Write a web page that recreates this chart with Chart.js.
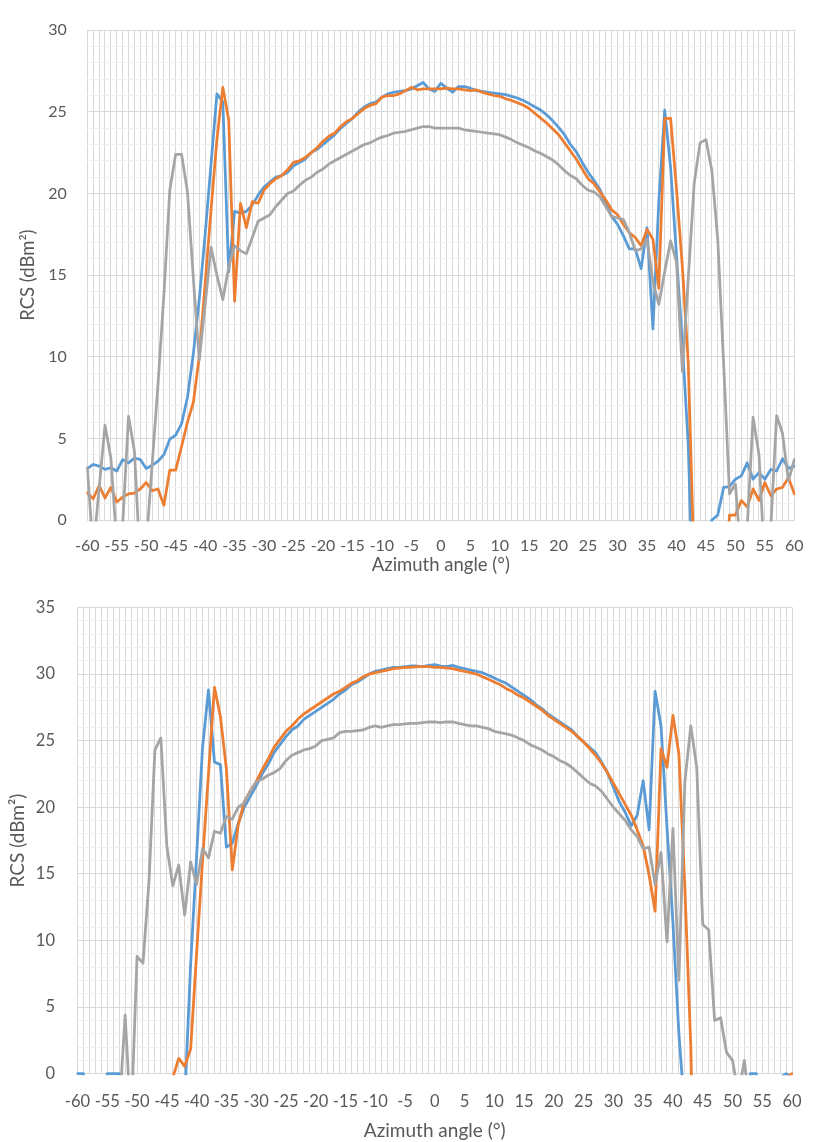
<!DOCTYPE html>
<html><head><meta charset="utf-8">
<script src="https://cdn.jsdelivr.net/npm/chart.js@4/dist/chart.umd.min.js"></script>
<style>
html,body{margin:0;padding:0;background:#fff;}
#wrap{position:relative;width:820px;height:1142px;overflow:hidden;}
canvas{position:absolute;left:0;}
</style></head><body>
<div id="wrap">
<canvas id="c1" width="820" height="575" style="top:0px"></canvas>
<canvas id="c2" width="820" height="567" style="top:575px"></canvas>
</div>
<script>
// Azimuth angle categories (degrees)
const angles = [
 -60,-59,-58,-57,-56,-55,-54,-53,-52,-51,-50,
 -49,-48,-47,-46,-45,-44,-43,-42,-41,-40,-39,
 -38,-37,-36,-35,-34,-33,-32,-31,-30,-29,-28,
 -27,-26,-25,-24,-23,-22,-21,-20,-19,-18,-17,
 -16,-15,-14,-13,-12,-11,-10,-9,-8,-7,-6,
 -5,-4,-3,-2,-1,0,1,2,3,4,5,
 6,7,8,9,10,11,12,13,14,15,16,
 17,18,19,20,21,22,23,24,25,26,27,
 28,29,30,31,32,33,34,35,36,37,38,
 39,40,41,42,43,44,45,46,47,48,49,
 50,51,52,53,54,55,56,57,58,59,60
];

// ---- Upper chart (RCS, dBm²) ----
const topBlue = [
 3.15,3.4,3.3,3.1,3.2,3.0,3.7,3.5,3.8,3.7,3.15,
 3.35,3.6,4.0,4.95,5.2,5.9,7.5,10.2,13.5,17.5,21.8,
 26.1,25.6,15.2,18.9,18.8,18.9,19.3,19.9,20.4,20.7,21.0,
 21.1,21.3,21.7,21.9,22.1,22.5,22.7,23.0,23.3,23.6,24.0,
 24.3,24.6,25.0,25.3,25.5,25.6,25.9,26.1,26.2,26.25,26.3,
 26.4,26.6,26.8,26.4,26.25,26.75,26.45,26.2,26.55,26.55,26.45,
 26.3,26.25,26.2,26.15,26.1,26.05,25.95,25.85,25.7,25.5,25.3,
 25.1,24.8,24.45,24.05,23.6,23.0,22.55,21.9,21.3,20.8,20.25,
 19.4,18.6,18.1,17.4,16.6,16.6,15.4,17.9,11.7,19.5,25.1,
 21.6,16.2,10.8,4.6,-8,-8,-8,0,0.3,2.0,2.05,
 2.5,2.7,3.5,2.5,2.9,2.5,3.1,3.0,3.75,3.15,3.3
];
const topOrange = [
 1.65,1.3,2.1,1.35,2.0,1.1,1.4,1.6,1.65,1.9,2.3,
 1.8,1.9,0.9,3.05,3.05,4.5,6.0,7.2,10.0,14.5,19.0,
 23.3,26.5,24.5,13.4,19.4,17.9,19.5,19.4,20.2,20.6,20.9,
 21.1,21.45,21.9,22.0,22.2,22.5,22.8,23.2,23.5,23.7,24.1,
 24.4,24.6,24.9,25.2,25.4,25.5,25.9,26.0,26.0,26.1,26.3,
 26.5,26.35,26.4,26.4,26.4,26.4,26.45,26.4,26.4,26.35,26.3,
 26.35,26.2,26.1,26.0,25.95,25.8,25.7,25.55,25.4,25.2,24.9,
 24.6,24.3,23.95,23.6,23.1,22.6,22.1,21.5,20.9,20.6,20.1,
 19.6,19.0,18.7,18.1,17.6,17.3,16.8,17.8,17.2,14.2,24.6,
 24.6,20.3,15.5,9.6,-3,-8,-8,-8,-8,-5,0.3,
 0.3,1.2,0.8,1.9,1.2,2.3,1.5,1.9,2.0,2.6,1.6
];
const topGray = [
 3.2,-1.9,1.9,5.8,3.8,-1.5,-0.3,6.35,4.2,-2.8,-1.6,
 3.4,8.3,13.8,20.2,22.4,22.4,20.1,14.8,9.8,13.2,16.7,
 15.0,13.5,15.5,16.8,16.5,16.3,17.3,18.3,18.5,18.7,19.2,
 19.6,20.0,20.15,20.5,20.8,21.0,21.3,21.5,21.8,22.0,22.2,
 22.4,22.6,22.8,23.0,23.1,23.3,23.45,23.55,23.7,23.75,23.8,
 23.9,24.0,24.1,24.1,24.0,24.0,24.0,24.0,24.0,23.9,23.85,
 23.8,23.75,23.7,23.65,23.6,23.45,23.3,23.1,22.95,22.8,22.6,
 22.45,22.25,22.05,21.75,21.4,21.1,20.9,20.5,20.2,20.1,19.8,
 19.2,18.6,18.5,18.4,17.6,16.5,16.6,17.2,14.6,13.2,15.2,
 17.1,15.8,9.1,14.8,20.6,23.1,23.3,21.4,17.2,9.6,1.6,
 2.2,-2.5,-0.5,6.3,4.0,-3,-0.5,6.4,5.3,2.4,3.7
];

// ---- Lower chart (RCS, dBm²) ----
const botBlue = [
 0,0,-20,-20,-20,0,0,0,-20,-20,-20,
 -20,-20,-20,-20,-20,-20,-20,-2,8.2,16.3,24.5,
 28.8,23.4,23.2,17.0,17.3,18.8,20.0,20.8,21.6,22.5,23.2,
 24.1,24.7,25.3,25.8,26.1,26.6,26.9,27.2,27.5,27.8,28.1,
 28.5,28.8,29.2,29.4,29.7,30.0,30.2,30.3,30.4,30.5,30.5,
 30.55,30.6,30.6,30.55,30.65,30.7,30.6,30.55,30.65,30.5,30.4,
 30.3,30.2,30.1,29.9,29.7,29.5,29.3,29.0,28.7,28.4,28.1,
 27.7,27.4,27.0,26.7,26.4,26.1,25.8,25.3,24.9,24.5,24.1,
 23.4,22.6,21.5,20.4,19.6,18.6,19.4,22.0,18.3,28.7,26.1,
 18.5,11.3,3.0,-3,-20,-20,-20,-20,-20,-20,-20,
 -20,-20,-20,0,0,-20,-20,-20,-0.3,0,-0.3
];
const botOrange = [
 -20,-20,-20,-20,-20,-20,-20,-20,-20,-20,-20,
 -20,-20,-20,-20,-20,-0.3,1.15,0.55,1.85,9.0,16.0,
 22.5,29.0,26.8,22.9,15.3,18.7,20.4,21.2,21.9,22.8,23.6,
 24.5,25.1,25.7,26.1,26.6,27.0,27.3,27.6,27.9,28.2,28.5,
 28.7,29.0,29.3,29.5,29.8,30.0,30.1,30.2,30.3,30.4,30.45,
 30.5,30.5,30.55,30.55,30.55,30.5,30.5,30.45,30.4,30.3,30.2,
 30.1,30.0,29.8,29.6,29.4,29.2,28.9,28.7,28.4,28.2,27.9,
 27.6,27.3,26.9,26.6,26.3,26.0,25.7,25.3,24.9,24.4,23.9,
 23.3,22.6,21.8,21.0,20.2,19.4,18.3,17.1,14.9,12.2,24.4,
 23.0,26.9,24.0,14.0,2.0,-20,-20,-20,-20,-20,-20,
 -20,-20,-20,-20,-20,-20,-20,-20,-20,-0.3,0
];
const botGray = [
 -20,-20,-20,-20,-20,-20,-20,-2.9,4.4,-3.8,8.8,
 8.3,14.4,24.3,25.2,17.1,14.1,15.65,11.9,15.9,14.2,16.9,
 16.2,18.2,18.05,19.3,19.1,20.0,20.3,21.2,21.9,22.1,22.4,
 22.6,22.9,23.5,23.9,24.1,24.3,24.4,24.6,25.0,25.1,25.2,
 25.6,25.7,25.7,25.75,25.8,26.0,26.1,26.0,26.1,26.2,26.2,
 26.25,26.3,26.3,26.35,26.4,26.4,26.35,26.4,26.4,26.3,26.2,
 26.1,26.1,26.0,25.9,25.7,25.6,25.5,25.4,25.2,25.0,24.7,
 24.5,24.3,24.0,23.8,23.5,23.3,23.0,22.6,22.2,21.8,21.6,
 21.2,20.6,20.0,19.5,19.0,18.3,17.8,16.9,17.0,14.2,16.6,
 9.9,18.4,7.0,21.9,26.1,23.0,11.2,10.8,4.0,4.2,1.6,
 1.0,-1.5,1.0,-3,-20,-20,-20,-20,-20,-20,-20
];

const yTitle = 'RCS (dBm²)';
const xTitle = 'Azimuth angle (°)';
const FAMILY = 'Lato, "Open Sans", sans-serif';
const TXT = '#595959';

function buildChart(id, blue, orange, gray, g) {
  const base = {borderWidth: g.lw, pointRadius: 0, pointHoverRadius: 0, tension: 0, fill: false,
    borderJoinStyle: 'round', borderCapStyle: 'round', clip: {left: 1, right: 1, top: 0, bottom: 1.5}};
  return new Chart(document.getElementById(id), {
    type: 'line',
    data: {
      labels: angles,
      datasets: [
        Object.assign({}, base, {data: blue, borderColor: '#5B9BD5', order: 3}),
        Object.assign({}, base, {data: orange, borderColor: '#ED7D31', order: 2}),
        Object.assign({}, base, {data: gray, borderColor: '#A5A5A5', order: 1})
      ]
    },
    options: {
      responsive: false, animation: false, devicePixelRatio: 1,
      events: [],
      layout: {padding: {left: 0, top: g.top, right: g.right, bottom: 0}},
      plugins: {legend: {display: false}, tooltip: {enabled: false}},
      scales: {
        x: {
          type: 'category',
          grid: {color: '#D9D9D9', lineWidth: 1, drawTicks: false},
          border: {color: '#D9D9D9'},
          ticks: {autoSkip: false, maxRotation: 0, minRotation: 0, padding: g.xPad, color: TXT,
            font: {family: FAMILY, size: g.tick},
            callback: function(v, i) { const a = angles[i]; return (a % 5 === 0) ? String(a) : ''; }},
          title: {display: true, text: xTitle, color: TXT,
            font: {family: FAMILY, size: g.title, lineHeight: 1},
            padding: {top: 0, bottom: g.xTitlePad}},
          afterFit: function(s) { s.height = g.xH; }
        },
        y: {
          min: 0, max: g.ymax,
          grid: {drawTicks: false, lineWidth: 1,
            color: function(ctx) { return (ctx.tick && ctx.tick.value % 5 === 0) ? '#D9D9D9' : '#F0F0F0'; }},
          border: {display: false},
          ticks: {stepSize: 1, autoSkip: false, padding: g.yPad, color: TXT,
            font: {family: FAMILY, size: g.tick},
            callback: function(v) { return (v % 5 === 0) ? String(v) : ''; }},
          title: {display: true, text: yTitle, color: TXT,
            font: {family: FAMILY, size: g.title, lineHeight: 1},
            padding: {top: g.yTitlePad, bottom: 0}},
          afterFit: function(s) { s.width = g.yW; }
        }
      }
    }
  });
}

buildChart('c1', topBlue, topOrange, topGray,
  {top: 18, right: 23.3, yW: 87.3, xH: 55, xPad: 16.4, yPad: 20.6, ymax: 30,
   tick: 16, title: 18.5, yTitlePad: 18.5, xTitlePad: 0.8, lw: 2.75});
buildChart('c2', botBlue, botOrange, botGray,
  {top: 13.3, right: 11.5, yW: 77.5, xH: 68.3, xPad: 18.4, yPad: 22.5, ymax: 35,
   tick: 16.5, title: 19, yTitlePad: 8.3, xTitlePad: 1.5, lw: 2.8});
</script>
</body></html>
